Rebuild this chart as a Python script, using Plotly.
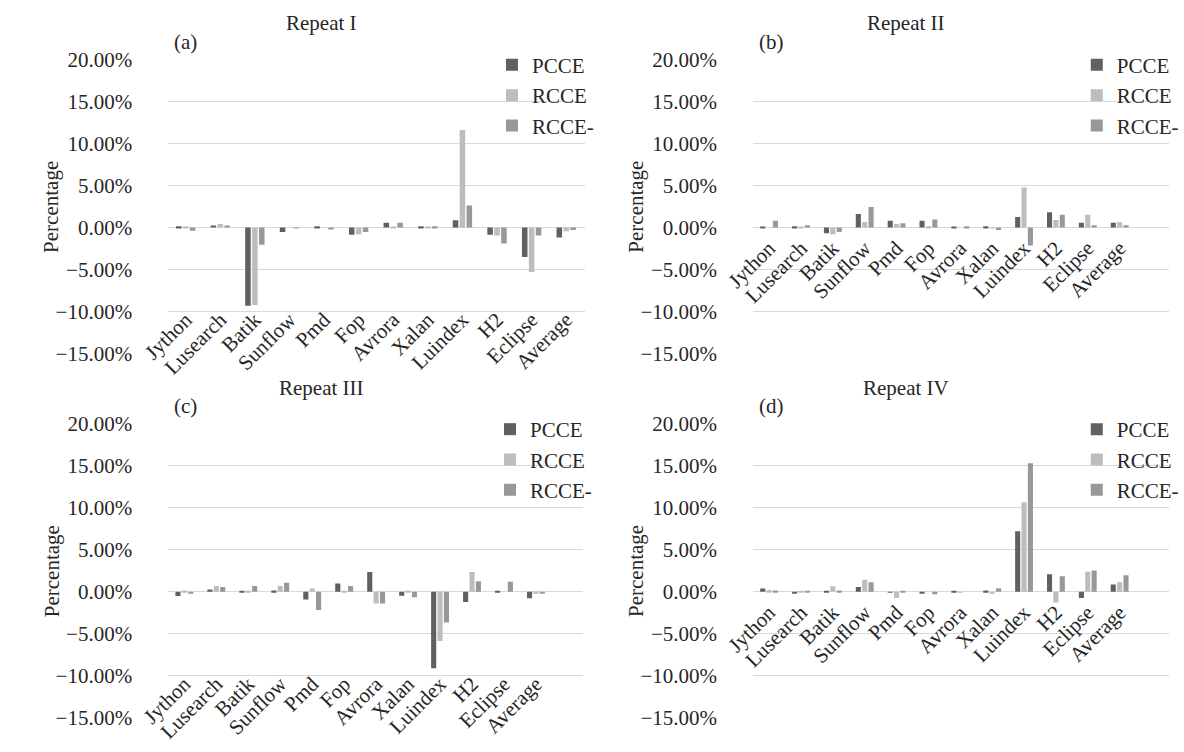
import plotly.graph_objects as go

# Benchmarks on the category axis
categories = ["Jython", "Lusearch", "Batik", "Sunflow", "Pmd", "Fop",
              "Avrora", "Xalan", "Luindex", "H2", "Eclipse", "Average"]
series_names = ["PCCE", "RCCE", "RCCE-"]

# Percentage change per benchmark, one list per repeat and series
r1_pcce = [0.15, 0.25, -9.3, -0.55, 0.15, -0.85, 0.55, 0.15, 0.85, -0.85, -3.5, -1.2]
r1_rcce = [0.1, 0.4, -9.2, 0.0, 0.0, -0.8, 0.1, 0.02, 11.6, -0.95, -5.3, -0.45]
r1_rcce_minus = [-0.4, 0.25, -2.05, -0.05, -0.2, -0.55, 0.55, 0.15, 2.6, -1.9, -0.95, -0.3]

r2_pcce = [0.05, 0.15, -0.7, 1.6, 0.8, 0.8, 0.05, 0.15, 1.25, 1.8, 0.55, 0.55]
r2_rcce = [0.0, 0.05, -0.8, 0.65, 0.4, 0.15, 0.0, -0.1, 4.75, 0.9, 1.5, 0.65]
r2_rcce_minus = [0.8, 0.27, -0.55, 2.45, 0.5, 0.95, 0.15, -0.3, -2.15, 1.5, 0.27, 0.27]

r3_pcce = [-0.5, 0.27, 0.05, 0.15, -0.92, 1.0, 2.35, -0.46, -9.1, -1.2, 0.05, -0.77]
r3_rcce = [0.15, 0.69, 0.15, 0.7, 0.38, 0.1, -1.38, 0.15, -5.85, 2.35, 0.0, -0.15]
r3_rcce_minus = [-0.23, 0.58, 0.7, 1.08, -2.15, 0.7, -1.38, -0.65, -3.65, 1.27, 1.2, -0.2]

r4_pcce = [0.38, -0.15, 0.05, 0.58, -0.1, -0.15, 0.05, 0.15, 7.2, 2.1, -0.73, 0.88]
r4_rcce = [0.23, 0.1, 0.65, 1.42, -0.73, 0.0, -0.1, -0.15, 10.65, -1.27, 2.38, 1.15]
r4_rcce_minus = [0.15, 0.05, 0.15, 1.15, 0.05, -0.3, 0.0, 0.42, 15.27, 1.85, 2.54, 1.96]

repeat_titles = ["Repeat I", "Repeat II", "Repeat III", "Repeat IV"]
panel_tags = ["(a)", "(b)", "(c)", "(d)"]
y_ticks = [-15, -10, -5, 0, 5, 10, 15, 20]
y_tick_text = [("\u2212" if v < 0 else "") + f"{abs(v):.2f}%" for v in y_ticks]

W, H = 1184, 752
FONT = "Liberation Serif"
FS = 21
TEXT = "#262626"
GRID = "#d9d9d9"
COLORS = ["#606060", "#bdbdbd", "#989898"]
Y_MIN, Y_MAX = -15.1, 20.1


def px_x(x):
    return x / W


def px_y(y):
    return 1 - y / H


# panel geometry in pixels: left, right, y pixel of +20 %, y pixel of -15 %,
# x-range upper end, value where the category labels hang
panels = [
    dict(l=143, r=570, top=49.7, bot=353.0, xmax=11.53, lab=-8.9),
    dict(l=743, r=1170, top=49.7, bot=353.0, xmax=12.56, lab=-0.4),
    dict(l=143, r=568, top=425.0, bot=728.3, xmax=12.46, lab=-8.9),
    dict(l=743, r=1170, top=425.0, bot=728.3, xmax=12.56, lab=-0.4),
]

data = [
    (r1_pcce, r1_rcce, r1_rcce_minus),
    (r2_pcce, r2_rcce, r2_rcce_minus),
    (r3_pcce, r3_rcce, r3_rcce_minus),
    (r4_pcce, r4_rcce, r4_rcce_minus),
]

fig = go.Figure()
layout = dict(
    width=W, height=H,
    margin=dict(l=0, r=0, t=0, b=0),
    paper_bgcolor="white", plot_bgcolor="white",
    barmode="group", bargap=0.4, bargroupgap=0.2,
    font=dict(family=FONT, size=FS, color=TEXT),
    showlegend=True,
)
annotations = []

for i, (p, series) in enumerate(zip(panels, data)):
    k = "" if i == 0 else str(i + 1)
    ppx = (p["bot"] - p["top"]) / 35.0
    y_top_px = p["top"] - (Y_MAX - 20) * ppx
    y_bot_px = p["bot"] + (-15 - Y_MIN) * ppx
    ydom = [px_y(y_bot_px), px_y(y_top_px)]
    xdom = [px_x(p["l"]), px_x(p["r"])]
    lab_pos = ydom[0] + (p["lab"] - Y_MIN) / (Y_MAX - Y_MIN) * (ydom[1] - ydom[0])

    legend_key = "legend" + k
    for name, vals, col in zip(series_names, series, COLORS):
        fig.add_trace(go.Bar(
            x=categories, y=vals, name=name,
            marker=dict(color=col, line=dict(width=0)),
            xaxis="x" + k, yaxis="y" + k,
            legend=legend_key,
        ))

    layout["xaxis" + k] = dict(
        domain=xdom, anchor="free", position=lab_pos,
        type="category", range=[-0.5, p["xmax"]],
        showgrid=False, zeroline=False, showline=False, ticks="",
        tickmode="linear", tick0=0, dtick=1, tickangle=-45,
        tickfont=dict(family=FONT, size=FS, color=TEXT),
    )
    # transparent outside ticks keep the labels clear of the plot area
    layout["yaxis" + k] = dict(
        domain=ydom, anchor="x" + k, range=[Y_MIN, Y_MAX],
        tickmode="array", tickvals=y_ticks, ticktext=y_tick_text,
        showgrid=True, gridcolor=GRID, gridwidth=1,
        zeroline=True, zerolinecolor=GRID, zerolinewidth=1,
        showline=False, ticks="outside", ticklen=31,
        tickcolor="rgba(0,0,0,0)",
        tickfont=dict(family=FONT, size=FS, color=TEXT),
    )
    layout[legend_key] = dict(
        x=px_x(p["r"] - 95), xanchor="left",
        y=px_y(p["top"] - 15), yanchor="top",
        bgcolor="rgba(0,0,0,0)", borderwidth=0,
        font=dict(family=FONT, size=FS, color=TEXT),
        itemwidth=30, tracegroupgap=0,
    )

    # panel title, panel tag and y-axis title
    annotations.append(dict(
        text=repeat_titles[i], xref="paper", yref="paper",
        x=px_x(p["l"] + 157), y=px_y(p["top"] - 37),
        xanchor="center", yanchor="middle", showarrow=False,
        font=dict(family=FONT, size=FS, color=TEXT),
    ))
    annotations.append(dict(
        text=panel_tags[i], xref="paper", yref="paper",
        x=px_x(p["l"] + 4), y=px_y(p["top"] - 18),
        xanchor="left", yanchor="middle", showarrow=False,
        font=dict(family=FONT, size=FS, color=TEXT),
    ))
    annotations.append(dict(
        text="Percentage", xref="paper", yref="paper",
        x=px_x(p["l"] - 120), y=(ydom[0] + ydom[1]) / 2,
        xanchor="center", yanchor="middle", showarrow=False, textangle=-90,
        font=dict(family=FONT, size=FS, color=TEXT),
    ))

layout["annotations"] = annotations
fig.update_layout(**layout)
fig.write_html("out.html")
